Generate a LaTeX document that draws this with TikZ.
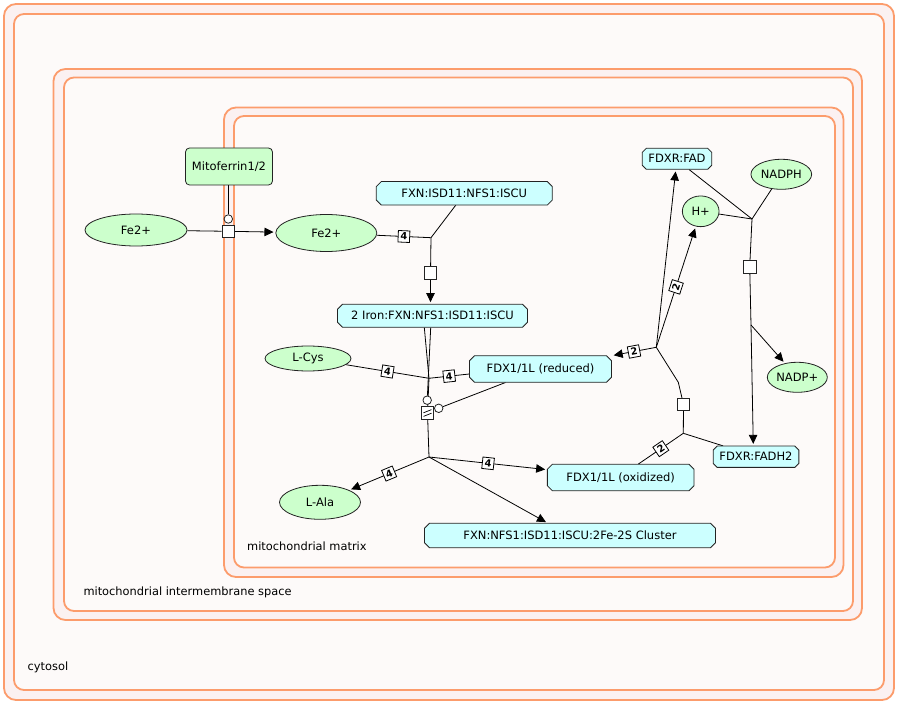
\documentclass[tikz,border=0pt]{standalone}
\usepackage{fontspec}
\setmainfont{DejaVu Sans}
\usetikzlibrary{shapes.geometric,arrows.meta,calc}

\definecolor{memb}{RGB}{252,156,108}
\definecolor{band}{RGB}{251,241,241}
\definecolor{inside}{RGB}{253,250,249}
\definecolor{smol}{RGB}{204,255,204}
\definecolor{cplx}{RGB}{204,255,255}
\definecolor{ink}{RGB}{35,35,35}

\newcommand\lblfont{\fontsize{11.5}{13}\selectfont}
\newcommand\cmpfont{\fontsize{11.4}{13}\selectfont}

\pgfdeclarelayer{bg}
\pgfdeclarelayer{edges}
\pgfsetlayers{bg,edges,main}

\tikzset{
  membrane/.style={draw=memb, line width=1.8pt},
  complabel/.style={anchor=west, font=\cmpfont, inner sep=0pt},
  smallmol/.style={ellipse, draw=ink, line width=0.8pt, fill=smol, inner sep=0pt, font=\lblfont},
  protein/.style={rectangle, rounded corners=4pt, draw=ink, fill=smol, line width=0.8pt, inner sep=0pt, font=\lblfont},
  cplxlabel/.style={rectangle, inner sep=0pt, font=\lblfont},
  link/.style={draw=black, line width=0.8pt},
  prod/.style={link, -{Triangle[length=9pt,width=8.5pt]}, shorten >=2pt},
  procbox/.style={rectangle, draw=ink, fill=white, line width=0.8pt, minimum size=12.5pt, inner sep=0pt},
  catcirc/.style={circle, draw=ink, fill=white, line width=0.8pt, minimum size=8.5pt, inner sep=0pt},
  stoich/.style={rectangle, draw=black, fill=white, line width=0.8pt, minimum size=11.5pt, inner sep=0pt,
    font=\bfseries\fontsize{9.8}{10}\selectfont, sloped},
}

% complex glyph: octagon with cut corners plus a named label node
% #1 name, #2 centre x, #3 centre y, #4 width, #5 height, #6 chamfer, #7 text
\newcommand\cplxnode[7]{%
  \draw[ink, line width=0.8pt, fill=cplx]
    ({#2-#4/2+#6},{#3-#5/2}) -- ({#2+#4/2-#6},{#3-#5/2}) -- ({#2+#4/2},{#3-#5/2+#6}) --
    ({#2+#4/2},{#3+#5/2-#6}) -- ({#2+#4/2-#6},{#3+#5/2}) -- ({#2-#4/2+#6},{#3+#5/2}) --
    ({#2-#4/2},{#3+#5/2-#6}) -- ({#2-#4/2},{#3-#5/2+#6}) -- cycle;
  \node[cplxlabel, minimum width=#4pt, minimum height=#5pt] (#1) at (#2,#3) {#7};%
}

\begin{document}
\begin{tikzpicture}[x=1pt, y=-1pt]
\useasboundingbox (0,0) rectangle (902,708);

% compartments: double membranes
\begin{pgfonlayer}{bg}
  \fill[white] (0,0) rectangle (902,708);
  \draw[membrane, fill=band, rounded corners=12pt] (4,4) rectangle (894,700);
  \draw[membrane, fill=inside, rounded corners=10pt] (14,14) rectangle (884,690);
  \draw[membrane, fill=band, rounded corners=12pt] (53.5,69) rectangle (862,620);
  \draw[membrane, fill=inside, rounded corners=10pt] (64,77.5) rectangle (853,611);
  \draw[membrane, fill=band, rounded corners=12pt] (224,107.5) rectangle (843.5,577);
  \draw[membrane, fill=inside, rounded corners=10pt] (234,116) rectangle (835,567.5);
\end{pgfonlayer}

\node[complabel] (lcyt) at (27.5,667) {cytosol};
\node[complabel] (lims) at (83.3,592) {mitochondrial intermembrane space};
\node[complabel] (lmat) at (247,546) {mitochondrial matrix};

% entity pool nodes
\node[protein, minimum width=87pt, minimum height=37pt] (mito) at (229,166.5) {Mitoferrin1/2};
\node[smallmol, minimum width=102pt, minimum height=32pt] (fecyt) at (136,230) {Fe2+};
\node[smallmol, minimum width=101pt, minimum height=37pt] (femat) at (326.3,233) {Fe2+};
\cplxnode{fxn}{464.3}{193.3}{176}{23.5}{5}{FXN:ISD11:NFS1:ISCU}
\cplxnode{iron}{432.5}{315.8}{190}{23}{5}{2 Iron:FXN:NFS1:ISD11:ISCU}
\node[smallmol, minimum width=86pt, minimum height=25pt] (cys) at (308,358.5) {L-Cys};
\cplxnode{fdxred}{540.5}{369}{142}{26.6}{5}{FDX1/1L (reduced)}
\node[smallmol, minimum width=81pt, minimum height=34pt] (ala) at (320,502.3) {L-Ala};
\cplxnode{fdxox}{620.7}{477.5}{146.7}{26.4}{5}{FDX1/1L (oxidized)}
\cplxnode{cluster}{570}{535.5}{291}{24.4}{5}{FXN:NFS1:ISD11:ISCU:2Fe-2S Cluster}
\cplxnode{fad}{677}{158.8}{69.4}{21}{4}{FDXR:FAD}
\node[smallmol, minimum width=60.7pt, minimum height=30pt] (nadph) at (781.3,174.3) {NADPH};
\node[smallmol, minimum width=36.7pt, minimum height=30.7pt] (hplus) at (700.7,211.3) {H+};
\node[smallmol, minimum width=60pt, minimum height=30pt] (nadp) at (797.3,377.3) {NADP+};
\cplxnode{fadh}{756}{456.7}{85.7}{21.3}{4}{FDXR:FADH2}

% process nodes, catalysis circles and junctions
\node[procbox] (p1) at (228.2,231.3) {};
\node[catcirc] (c1) at (228.3,219) {};

\coordinate (j2) at (431,237.7);
\node[procbox] (p2) at (430.5,272.7) {};

\coordinate (j3) at (429,378.3);
\node[procbox] (p3) at (427.5,413) {};
\draw[line width=0.7pt] ($(p3)+(-4,-0.2)$) -- ($(p3)+(4,-3.4)$);
\draw[line width=0.7pt] ($(p3)+(-4,3.4)$) -- ($(p3)+(4,0.2)$);
\node[catcirc] (c3a) at (427.2,400.2) {};
\node[catcirc] (c3b) at (438.7,408.3) {};
\coordinate (j3o) at (429,457);

\coordinate (j4) at (752,219);
\node[procbox] (p4) at (749.7,266.7) {};
\coordinate (j4o) at (751,325);

\coordinate (j5) at (683.3,433.3);
\node[procbox] (p5) at (683.5,404.5) {};
\coordinate (b5) at (678.3,382.3);
\coordinate (j5o) at (656.3,347.3);

\begin{pgfonlayer}{edges}
  % iron import through the inner membrane
  \draw[link] (fecyt) -- (p1);
  \draw[prod] (p1) -- (femat);
  \draw[link] (mito.south -| c1) -- (c1);

  % iron loading of the scaffold complex
  \draw[link] (femat) -- (j2) node[stoich, pos=0.5] {4};
  \draw[link] ([xshift=-8.6pt]fxn.south) -- (j2);
  \draw[link] (j2) -- (p2);
  \draw[prod] (p2) -- (p2 |- iron.north);

  % 2Fe-2S cluster assembly
  \draw[link] ([xshift=-8.2pt]iron.south) -- (j3);
  \draw[link] ([xshift=-1.8pt]iron.south) -- (c3a);
  \draw[link] (cys) -- (j3) node[stoich, pos=0.5] {4};
  \draw[link] ([yshift=-5pt]fdxred.west) -- (j3) node[stoich, pos=0.5] {4};
  \draw[link] (j3) -- (p3);
  \draw[link] ([xshift=-35pt]fdxred.south) -- (c3b);
  \draw[link] (p3) -- (j3o);
  \draw[prod] (j3o) -- (ala) node[stoich, pos=0.5] {4};
  \draw[prod] (j3o) -- (fdxox) node[stoich, pos=0.5] {4};
  \draw[prod] (j3o) -- (cluster);

  % FDXR reduction by NADPH
  \draw[link] ([xshift=12pt]fad.south) -- (j4);
  \draw[link] (hplus) -- (j4);
  \draw[link] (nadph) -- (j4);
  \draw[link] (j4) -- (p4);
  \draw[link] (p4) -- (j4o);
  \draw[prod] (j4o) -- ([xshift=-2.7pt]fadh.north);
  \draw[prod] (j4o) -- (nadp);

  % ferredoxin re-reduction
  \draw[link] ([xshift=17.6pt]fdxox.north) -- (j5) node[stoich, pos=0.5] {2};
  \draw[link] ([xshift=-33pt]fadh.north) -- (j5);
  \draw[link] (j5) -- (p5);
  \draw[link] (p5) -- (b5) -- (j5o);
  \draw[prod] (j5o) -- (fdxred) node[stoich, pos=0.5] {2};
  \draw[prod] (j5o) -- (hplus) node[stoich, pos=0.5] {2};
  \draw[prod] (j5o) -- (fad);
\end{pgfonlayer}
\end{tikzpicture}
\end{document}
